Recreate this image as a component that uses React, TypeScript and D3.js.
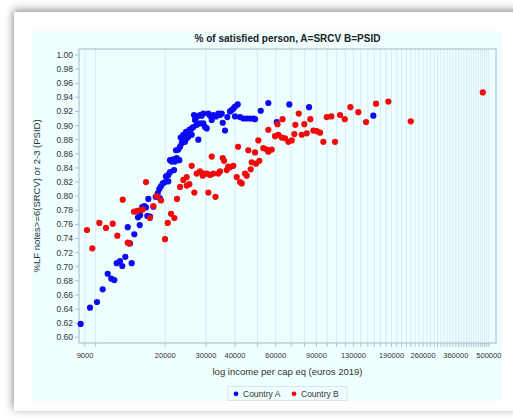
import React from "react";
import * as d3 from "d3";

// Country A (SRCV) — income per cap eq (euros 2019), share satisfied
const countryAIncome = [
  8620, 9460, 10140, 10730, 11280, 11690, 12050, 12340, 12750, 13040,
  13440, 14320, 13770, 14080, 14700, 15510, 15250, 15560, 15920, 16240,
  16510, 16900, 16730, 17180, 17760, 18190, 18550, 18850, 19170, 19500,
  19950, 20620, 18980, 20150, 20620, 20970, 20970, 21330, 21670, 22040,
  22410, 23000, 21820, 22260, 22780, 23160, 23560, 23320, 23790, 24340,
  24760, 25160, 25590, 26020, 23940, 24590, 25410, 26020, 26440, 27350,
  28260, 29200, 29700, 30210, 27790, 26890, 27510, 28260, 28740, 29200,
  26620, 30700, 31220, 31750, 32260, 33140, 33910, 34490, 35070, 35420,
  36240, 37080, 38090, 38740, 39360, 40040, 41130, 40040, 42080, 43480,
  44980, 46480, 48030, 48850, 51700, 55770, 60630, 68720, 83610, 158500,
];
const countryASatisfied = [
  0.619, 0.642, 0.650, 0.668, 0.690, 0.683, 0.681, 0.705, 0.708, 0.701,
  0.714, 0.705, 0.756, 0.733, 0.746, 0.759, 0.770, 0.773, 0.785, 0.786,
  0.784, 0.796, 0.772, 0.771, 0.785, 0.799, 0.804, 0.810, 0.814, 0.818,
  0.820, 0.821, 0.797, 0.828, 0.830, 0.834, 0.851, 0.849, 0.852, 0.849,
  0.854, 0.851, 0.837, 0.865, 0.866, 0.870, 0.875, 0.883, 0.880, 0.877,
  0.882, 0.884, 0.889, 0.887, 0.887, 0.891, 0.894, 0.896, 0.898, 0.901,
  0.903, 0.903, 0.898, 0.896, 0.880, 0.908, 0.913, 0.915, 0.914, 0.917,
  0.915, 0.917, 0.914, 0.908, 0.915, 0.913, 0.917, 0.915, 0.917, 0.904,
  0.893, 0.912, 0.920, 0.922, 0.924, 0.927, 0.930, 0.913, 0.912, 0.910,
  0.910, 0.910, 0.910, 0.909, 0.921, 0.932, 0.905, 0.930, 0.926, 0.914,
];

// Country B (PSID)
const countryBIncome = [
  9180, 9680, 10380, 11090, 11860, 12410, 13100, 13770, 13990, 14660,
  15140, 15560, 15980, 16510, 17180, 17760, 18370, 19170, 19950, 20500,
  21180, 21890, 22480, 23160, 23940, 24760, 25410, 26020, 26710, 27350,
  28260, 29030, 30210, 30700, 31750, 32260, 32970, 33910, 34490, 35420,
  35890, 36860, 38090, 39360, 40720, 41250, 42080, 42800, 44220, 44980,
  45700, 46800, 47270, 48850, 49340, 50480, 50990, 53060, 54890, 55770,
  57680, 55770, 59600, 61590, 63710, 65840, 68040, 70380, 61100, 64230,
  72230, 72950, 75460, 77740, 79780, 81710, 84690, 87260, 90260, 93280,
  96390, 99710, 104400, 108300, 113800, 119300, 126100, 136500, 147400, 162800,
  184000, 230000, 470800, 29410, 31220, 37460, 24760,
];
const countryBSatisfied = [
  0.752, 0.726, 0.762, 0.755, 0.761, 0.744, 0.795, 0.734, 0.733, 0.778,
  0.779, 0.780, 0.781, 0.820, 0.769, 0.786, 0.800, 0.794, 0.739, 0.762,
  0.775, 0.769, 0.796, 0.813, 0.823, 0.827, 0.817, 0.843, 0.805, 0.832,
  0.835, 0.829, 0.832, 0.805, 0.856, 0.832, 0.799, 0.832, 0.835, 0.854,
  0.850, 0.837, 0.841, 0.843, 0.827, 0.870, 0.820, 0.818, 0.832, 0.829,
  0.865, 0.838, 0.848, 0.862, 0.846, 0.879, 0.850, 0.868, 0.866, 0.863,
  0.866, 0.894, 0.885, 0.887, 0.883, 0.882, 0.877, 0.879, 0.902, 0.909,
  0.888, 0.901, 0.917, 0.887, 0.902, 0.889, 0.909, 0.893, 0.892, 0.890,
  0.877, 0.912, 0.913, 0.877, 0.915, 0.909, 0.926, 0.919, 0.905, 0.931,
  0.934, 0.906, 0.947, 0.832, 0.830, 0.842, 0.815,
];

const xTickLabels = [9000, 20000, 30000, 40000, 60000, 90000, 130000, 190000, 260000, 360000, 500000];
const xGridValues = [9000, ...d3.range(10000, 500001, 10000)];
const yTickLabels = ["0.60", "0.62", "0.64", "0.66", "0.68", "0.70", "0.72", "0.74", "0.76", "0.78", "0.80",
  "0.82", "0.84", "0.86", "0.88", "0.90", "0.92", "0.94", "0.96", "0.98", "1.00"];

const titleText = "% of satisfied person, A=SRCV B=PSID";
const xAxisLabel = "log income per cap eq (euros 2019)";
const yAxisLabel = "%LF notes>=6(SRCV) or 2-3 (PSID)";
const seriesNames = ["Country A", "Country B"];

export default function App() {
  const W = 513, H = 417;
  const plot = { left: 79, right: 496, top: 49, bottom: 343 };
  const x = d3.scaleLog().domain([8478, 537000]).range([plot.left, plot.right]);
  const y = d3.scaleLinear().domain([0.5919, 1.0085]).range([plot.bottom, plot.top]);
  const font = "'Liberation Sans', Arial, sans-serif";
  const A = countryAIncome.map((v, i) => [v, countryASatisfied[i]]);
  const B = countryBIncome.map((v, i) => [v, countryBSatisfied[i]]);

  return (
    <svg width={W} height={H} style={{ position: "fixed", left: 0, top: 0 }} fontFamily={font}>
      <defs>
        <filter id="shadow" x="-10%" y="-10%" width="120%" height="120%">
          <feDropShadow dx="-1" dy="-2" stdDeviation="4" floodColor="#000" floodOpacity="0.45" />
        </filter>
      </defs>
      <rect x={0} y={0} width={W} height={H} fill="#fff" />
      <rect x={14} y={12} width={520} height={399} fill="#fff" filter="url(#shadow)" />
      <rect x={32} y={31} width={470} height={370} fill="#effefe" />
      {/* plot background */}
      <rect x={plot.left} y={plot.top} width={plot.right - plot.left} height={plot.bottom - plot.top} fill="#effefe" />
      {/* vertical grid */}
      {xGridValues.map((v) => (
        <line key={"g" + v} x1={x(v)} x2={x(v)} y1={plot.top} y2={plot.bottom} stroke="#cfe6f3" strokeWidth={0.8} />
      ))}
      {/* x tick marks */}
      {xGridValues.map((v) => (
        <line key={"t" + v} x1={x(v)} x2={x(v)} y1={plot.bottom} y2={plot.bottom + 4} stroke="#9fb3c6" strokeWidth={0.8} />
      ))}
      {/* y ticks */}
      {yTickLabels.map((t) => (
        <g key={t}>
          <line x1={plot.left - 4} x2={plot.left} y1={y(+t)} y2={y(+t)} stroke="#9fb3c6" strokeWidth={0.8} />
          <text x={plot.left - 6} y={y(+t)} dy="0.35em" textAnchor="end" fontSize={8.5} fill="#333">{t}</text>
        </g>
      ))}
      {xTickLabels.map((v) => (
        <text key={"l" + v} x={x(v)} y={358} textAnchor="middle" fontSize={7.5} fill="#333">{v}</text>
      ))}
      {/* plot frame */}
      <rect x={plot.left} y={plot.top} width={plot.right - plot.left} height={plot.bottom - plot.top} fill="none" stroke="#a6b8c8" strokeWidth={1} />
      {/* points */}
      {A.map((d, i) => (
        <circle key={"a" + i} cx={x(d[0])} cy={y(d[1])} r={3.1} fill="#0a0af5" />
      ))}
      {B.map((d, i) => (
        <circle key={"b" + i} cx={x(d[0])} cy={y(d[1])} r={3.1} fill="#f20a0a" />
      ))}
      {/* title and axis labels */}
      <text x={(plot.left + plot.right) / 2} y={42} textAnchor="middle" fontSize={10} fontWeight="bold" fill="#222">{titleText}</text>
      <text x={(plot.left + plot.right) / 2} y={375} textAnchor="middle" fontSize={9.5} fill="#333">{xAxisLabel}</text>
      <text transform={`translate(40, ${(plot.top + plot.bottom) / 2}) rotate(-90)`} textAnchor="middle" fontSize={9.5} fill="#333">{yAxisLabel}</text>
      {/* legend */}
      <rect x={228} y={386.5} width={119} height={14} fill="#effefe" stroke="#d3dde6" strokeWidth={0.8} />
      <circle cx={236} cy={393.8} r={2.4} fill="#0a0af5" />
      <text x={243} y={397} fontSize={8.5} fill="#333">{seriesNames[0]}</text>
      <circle cx={294} cy={393.8} r={2.4} fill="#f20a0a" />
      <text x={301} y={397} fontSize={8.5} fill="#333">{seriesNames[1]}</text>
    </svg>
  );
}
